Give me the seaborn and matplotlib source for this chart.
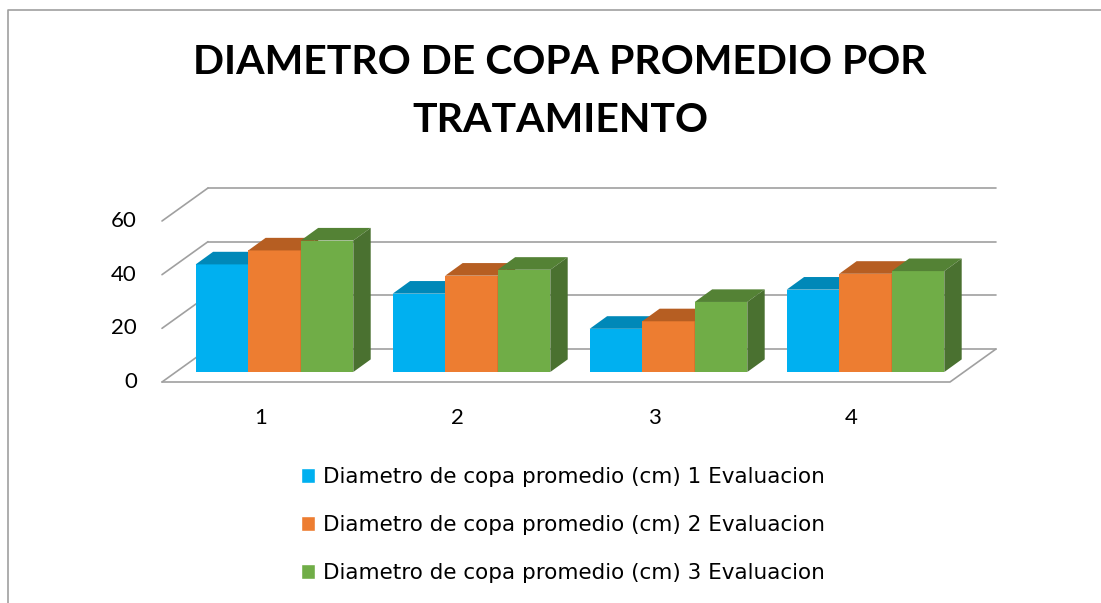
import numpy as np
import pandas as pd
import matplotlib.pyplot as plt
import seaborn as sns
from matplotlib.patches import Polygon
from matplotlib.lines import Line2D
from matplotlib.transforms import offset_copy

# Datos
tratamientos = ['1', '2', '3', '4']
evaluaciones = ['Diametro de copa promedio (cm) 1 Evaluacion',
                'Diametro de copa promedio (cm) 2 Evaluacion',
                'Diametro de copa promedio (cm) 3 Evaluacion']
eval_1 = [40.1, 29.2, 16.1, 30.7]
eval_2 = [45.3, 35.9, 18.9, 36.6]
eval_3 = [49.0, 38.1, 26.1, 37.6]
y_ticks = [0, 20, 40, 60]

colores = ['#00B0F0', '#ED7D31', '#70AD47']
cara_sup = ['#0088B8', '#B65E22', '#548235']
cara_lat = ['#0078A3', '#9F521D', '#4A7130']
gris = '#A0A0A0'

df = pd.DataFrame({
    'Tratamiento': tratamientos * 3,
    'Evaluacion': np.repeat(evaluaciones, len(tratamientos)),
    'Diametro': eval_1 + eval_2 + eval_3,
})

sns.set_theme(style='white')
plt.rcParams['font.family'] = ['Lato', 'DejaVu Sans']
plt.rcParams['text.color'] = 'black'

W, H = 1101, 603
fig = plt.figure(figsize=(W / 100, H / 100), dpi=100)
# ejes = plano frontal de las barras
ax = fig.add_axes([176 / W, (H - 372) / H, 788 / W, 161 / H])

sns.barplot(data=df, x='Tratamiento', y='Diametro', hue='Evaluacion',
            palette=colores, saturation=1, width=0.8, ax=ax)
ax.set_xlim(-0.5, 3.5)
ax.set_ylim(0, 60)

px_x = 788 / 4
px_y = 161 / 60

# desplazamientos de perspectiva (en unidades de datos)
prof_x, prof_y = 17.4 / px_x, 12.6 / px_y      # profundidad de la barra
fr_x, fr_y = -14 / px_x, -10 / px_y            # borde frontal del piso
fo_x, fo_y = 32 / px_x, 23 / px_y              # pared del fondo

# pared del fondo y pared izquierda
for t in y_ticks:
    ax.plot([-0.5 + fo_x, 3.5 + fo_x], [t + fo_y, t + fo_y], color=gris, lw=1.2,
            clip_on=False, zorder=1)
    ax.plot([-0.5 + fr_x, -0.5 + fo_x], [t + fr_y, t + fo_y], color=gris, lw=1.2,
            clip_on=False, zorder=1)
# piso
ax.plot([-0.5 + fr_x, 3.5 + fr_x, 3.5 + fo_x], [fr_y, fr_y, fo_y], color=gris, lw=1.2,
        clip_on=False, zorder=1)

# caras superiores y laterales de cada barra
for i, cont in enumerate(ax.containers):
    for bar in cont:
        x0, w, h = bar.get_x(), bar.get_width(), bar.get_height()
        bar.set_linewidth(0)
        bar.set_zorder(3 + i)
        bar.set_clip_on(False)
        top = Polygon([(x0, h), (x0 + w, h), (x0 + w + prof_x, h + prof_y), (x0 + prof_x, h + prof_y)],
                      closed=True, facecolor=cara_sup[i], edgecolor='none', zorder=3 + i, clip_on=False)
        side = Polygon([(x0 + w, 0), (x0 + w + prof_x, prof_y), (x0 + w + prof_x, h + prof_y), (x0 + w, h)],
                       closed=True, facecolor=cara_lat[i], edgecolor='none', zorder=3 + i, clip_on=False)
        ax.add_patch(top)
        ax.add_patch(side)

ax.set_xlim(-0.5, 3.5)
ax.set_ylim(0, 60)
ax.set_xticks([])
ax.set_yticks([])
ax.set_xlabel('')
ax.set_ylabel('')
for s in ax.spines.values():
    s.set_visible(False)
ax.patch.set_alpha(0)

# etiquetas de los ejes
for t in y_ticks:
    ax.text(-0.5 + fr_x, t + fr_y, str(t), ha='right', va='center', fontsize=16,
            color='black', transform=offset_copy(ax.transData, fig, x=-25, y=0, units='dots'))
for i, lab in enumerate(tratamientos):
    ax.text(i + fr_x, fr_y, lab, ha='center', va='center', fontsize=16, color='black',
            transform=offset_copy(ax.transData, fig, x=0, y=-36, units='dots'))

# leyenda
handles, labels = ax.get_legend_handles_labels()
ax.legend_.remove()
leg = fig.legend(handles, labels, loc='upper left', bbox_to_anchor=(301 / W, 1 - 467 / H),
                 frameon=False, prop={'family': 'DejaVu Sans', 'size': 15.5},
                 handlelength=0.65, handleheight=0.65,
                 handletextpad=0.35, labelspacing=1.3, borderpad=0, borderaxespad=0)
for txt in leg.get_texts():
    txt.set_color('black')

# titulo
fig.text(560 / W, 1 - 63 / H, 'DIAMETRO DE COPA PROMEDIO POR', ha='center', va='center',
         fontsize=29.5, fontweight='bold', color='black')
fig.text(560 / W, 1 - 121 / H, 'TRATAMIENTO', ha='center', va='center',
         fontsize=29.5, fontweight='bold', color='black')

# borde del grafico
fig.add_artist(Line2D([7.5 / W, 7.5 / W, 1], [0, 1 - 10 / H, 1 - 10 / H], color=gris, lw=1.2))

fig.savefig('out.png', dpi=100)
